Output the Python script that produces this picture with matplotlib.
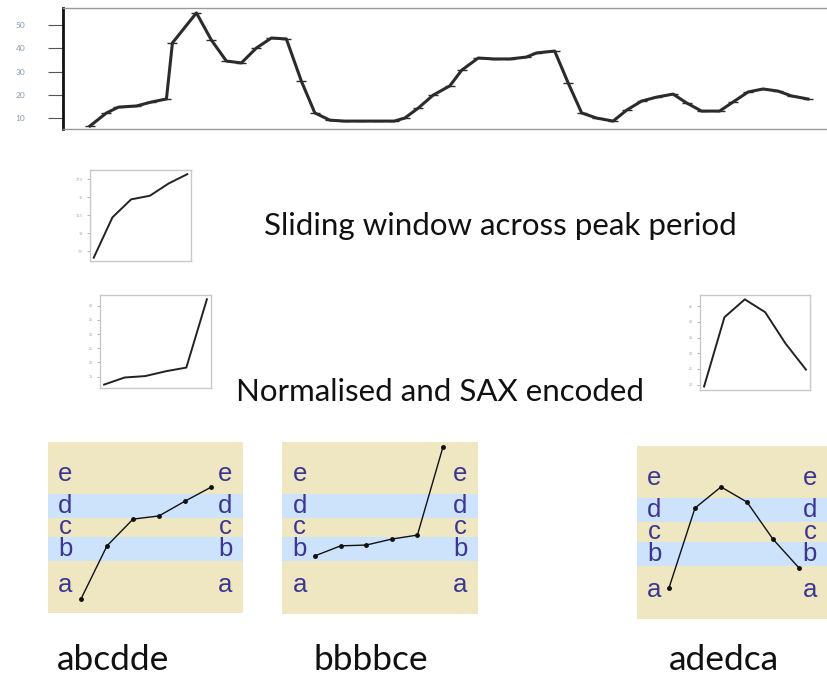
import matplotlib.pyplot as plt
import numpy as np

W, H = 827, 675

# main series (hours, value)
t = [0.0, 1.1, 1.9, 3.1, 4.1, 5.1, 5.5, 7.1, 8.1, 9.1, 10.1, 11.1, 12.1, 13.1,
     14.1, 15.0, 16.0, 17.0, 18.1, 19.2, 20.3, 21.0, 21.9, 22.9, 24.0, 24.8,
     25.9, 27.0, 28.0, 29.1, 29.8, 31.0, 31.9, 32.8, 33.8, 34.9, 35.8, 36.8,
     37.8, 38.9, 39.8, 40.8, 42.0, 42.9, 43.9, 44.9, 45.9, 46.8, 47.9]
vals = [6.6, 12.2, 14.7, 15.2, 16.9, 18.2, 42.3, 55.2, 43.5, 34.5, 33.7, 40.1,
        44.4, 44.0, 25.9, 12.2, 9.1, 8.7, 8.7, 8.7, 8.7, 10.0, 14.3, 19.9, 23.8,
        30.6, 35.8, 35.4, 35.4, 36.2, 38.0, 38.8, 25.1, 12.2, 10.0, 8.7, 13.4,
        17.3, 19.0, 20.3, 16.5, 13.0, 13.0, 16.9, 21.2, 22.5, 21.6, 19.5, 18.2]
main_ticks = [10, 20, 30, 40, 50]

# sliding windows (raw)
win1 = [6.6, 12.2, 14.7, 15.2, 16.9, 18.2]
win1_ticks = [7.5, 10, 12.5, 15, 17.5]
win2 = [12.2, 14.7, 15.2, 16.9, 18.2, 42.3]
win2_ticks = [15, 20, 25, 30, 35, 40]
win3 = [19.4, 41.5, 47.2, 43.1, 33.1, 24.8]
win3_ticks = [20, 25, 30, 35, 40, 45]

# normalised windows and SAX words
z1 = [-1.79, -0.46, 0.21, 0.29, 0.66, 1.01]
z2 = [-0.71, -0.46, -0.44, -0.29, -0.19, 2.02]
z3 = [-1.40, 0.60, 1.13, 0.75, -0.18, -0.90]
words = ['abcdde', 'bbbbce', 'adedca']
breaks = [-0.84, -0.25, 0.25, 0.84]
letters = ['a', 'b', 'c', 'd', 'e']
letter_y = [-1.45, -0.55, 0.0, 0.55, 1.35]

plt.rcParams['font.family'] = ['Lato', 'DejaVu Sans']


def box(x0, y0, x1, y1):
    return [x0 / W, 1 - y1 / H, (x1 - x0) / W, (y1 - y0) / H]


fig = plt.figure(figsize=(W / 100, H / 100), dpi=100)

# top chart
ax = fig.add_axes(box(63, 8, 826, 129))
ax.plot(t, vals, color='#2b2b2b', lw=2.2, marker='_', ms=7, mew=1)
ax.set_xlim(-1.8, 49.1)
ax.set_ylim(5.3, 57.3)
ax.set_xticks([])
ax.set_yticks(main_ticks)
ax.set_yticklabels([str(v) for v in main_ticks], fontsize=6, color='#8a9ab0')
ax.tick_params(axis='y', length=11, width=0.8, color='#555555', pad=16)
ax.spines['left'].set_linewidth(2)
ax.spines['left'].set_color('#111111')
for s in ['top', 'bottom']:
    ax.spines[s].set_color('#999999')
    ax.spines[s].set_linewidth(1)
ax.spines['right'].set_visible(False)

# small window charts
small = [(box(90, 170, 191, 261), win1, win1_ticks),
         (box(100, 295, 211, 388), win2, win2_ticks),
         (box(700, 295, 810, 390), win3, win3_ticks)]
for pos, w, tk in small:
    a = fig.add_axes(pos)
    a.plot(range(len(w)), w, color='#222222', lw=1.4)
    a.set_xlim(-0.2, len(w) - 0.8)
    rng = max(w) - min(w)
    a.set_ylim(min(w) - rng * 0.04, max(w) + rng * 0.05)
    a.set_xticks([])
    a.set_yticks(tk)
    a.set_yticklabels([str(v) for v in tk], fontsize=2.5, color='#999999')
    a.tick_params(axis='y', length=2, width=0.5, color='#999999', pad=3)
    for s in a.spines.values():
        s.set_color('#c8c8c8')
        s.set_linewidth(1)

# SAX panels
beige = '#EFE7C1'
blue = '#CDE3FB'
lcol = '#3D3592'
panels = [((48, 442, 243, 613), 81, 26, 527.5, z1),
          ((282, 442, 478, 614), 315, 25.6, 527.5, z2),
          ((637, 446, 827, 619), 669, 26, 532, z3)]
for (x0, y0, x1, y1), px0, dx, ymid, z in panels:
    a = fig.add_axes(box(x0, y0, x1, y1))
    a.set_facecolor(beige)
    a.set_xlim((x0 - px0) / dx, (x1 - px0) / dx)
    a.set_ylim(-(y1 - ymid) / 39.9, (ymid - y0) / 39.9)
    a.axhspan(breaks[0], breaks[1], color=blue, lw=0)
    a.axhspan(breaks[2], breaks[3], color=blue, lw=0)
    a.plot(range(len(z)), z, color='#111111', lw=1, marker='o', ms=2.5)
    xl, xr = a.get_xlim()
    for L, ly in zip(letters, letter_y):
        a.text(xl + (xr - xl) * 0.09, ly, L, color=lcol, fontsize=18.5,
               ha='center', va='center', family=['Liberation Sans'])
        a.text(xr - (xr - xl) * 0.09, ly, L, color=lcol, fontsize=18.5,
               ha='center', va='center', family=['Liberation Sans'])
    a.set_xticks([])
    a.set_yticks([])
    for s in a.spines.values():
        s.set_visible(False)

fig.text(500 / W, 1 - 226 / H, 'Sliding window across peak period',
         fontsize=22.5, ha='center', va='center', color='#111111')
fig.text(440 / W, 1 - 392 / H, 'Normalised and SAX encoded',
         fontsize=22.5, ha='center', va='center', color='#111111')
for wd, cx in zip(words, [113, 371, 724]):
    fig.text(cx / W, 1 - 660 / H, wd, fontsize=25.5, ha='center', va='center',
             color='#111111')

fig.savefig('out.png', dpi=100)
